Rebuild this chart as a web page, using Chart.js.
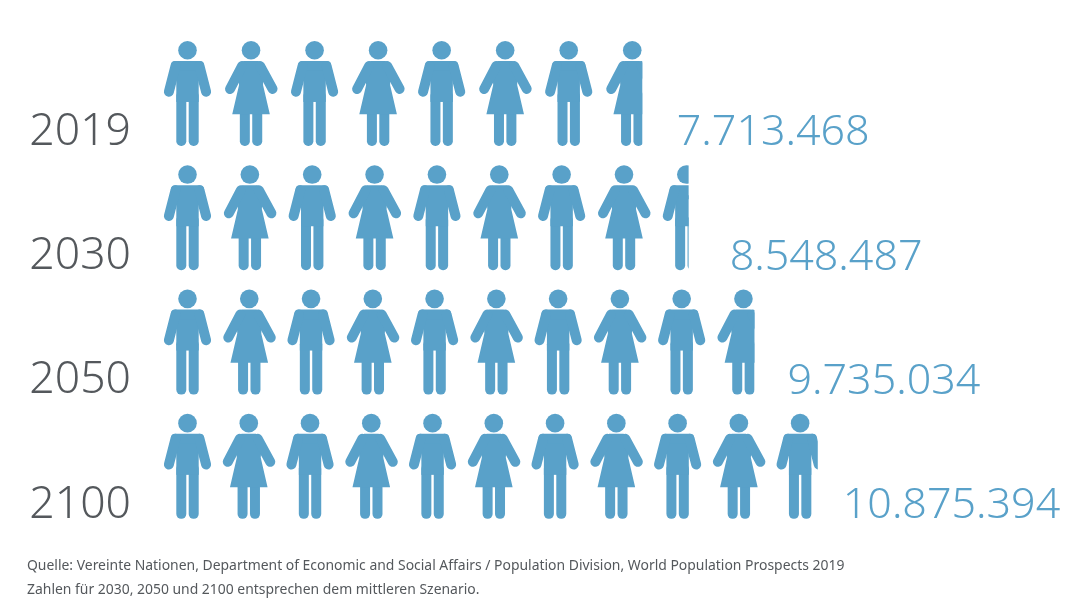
<!DOCTYPE html>
<html><head><meta charset="utf-8">
<style>html,body{margin:0;padding:0;background:#fff}canvas{display:block}</style>
<script src="https://cdn.jsdelivr.net/npm/chart.js@4"></script></head>
<body><canvas id="c" width="1080" height="608"></canvas>
<script>
const years = ['2019','2030','2050','2100'];
const population = [7713468, 8548487, 9735034, 10875394];
const sourceLines = [
  'Quelle: Vereinte Nationen, Department of Economic and Social Affairs / Population Division, World Population Prospects 2019',
  'Zahlen für 2030, 2050 und 2100 entsprechen dem mittleren Szenario.'
];
const BLUE = '#59a1c9', GREY = '#54585c', FONT = '"Noto Sans", sans-serif';
const ICON_W = 47;
const LABEL_GAP = [34.5, 41, 33, 25];

function limb(ctx, x1, y1, x2, y2, w) {
  ctx.lineWidth = w; ctx.lineCap = 'round';
  ctx.beginPath(); ctx.moveTo(x1, y1); ctx.lineTo(x2, y2); ctx.stroke();
}
function poly(ctx, pts) {
  ctx.beginPath(); pts.forEach((p, i) => i ? ctx.lineTo(p[0], p[1]) : ctx.moveTo(p[0], p[1]));
  ctx.closePath(); ctx.fill();
}
function person(ctx, cx, top, female) {
  ctx.save(); ctx.translate(cx, top);
  ctx.fillStyle = ctx.strokeStyle = BLUE;
  ctx.beginPath(); ctx.arc(0, 9.3, 9.3, 0, Math.PI * 2); ctx.fill();
  [1.2, -11.2].forEach(x => { ctx.beginPath(); ctx.roundRect(x, 50, 10, 55, 4.8); ctx.fill(); });
  if (female) {
    poly(ctx, [[-7,20],[7,20],[10,21],[13,26],[12,44],[18.8,73.3],[-18.8,73.3],[-12,44],[-13,26],[-10,21]]);
    limb(ctx, -9, 25, -21, 48, 10); limb(ctx, 9, 25, 21.5, 48, 10);
  } else {
    ctx.beginPath(); ctx.roundRect(-16.5, 20, 33, 14, 4); ctx.fill();
    ctx.fillRect(-11.2, 30, 22.4, 31);
    limb(ctx, -12, 25, -18.6, 50.7, 10); limb(ctx, 12, 25, 18.6, 50.7, 10);
  }
  ctx.restore();
}
const pictogram = {
  id: 'pictogram',
  afterDatasetsDraw(chart) {
    const { ctx } = chart, xs = chart.scales.x;
    const start = xs.left;
    chart.getDatasetMeta(0).data.forEach((bar, i) => {
      const v = population[i] / 1e6, n = Math.ceil(v), frac = v - Math.floor(v);
      const pitch = (bar.x - start - frac * ICON_W) / (n - 1);
      ctx.save();
      ctx.beginPath(); ctx.rect(start - 3, bar.y - 60, bar.x - start + 3, 120); ctx.clip();
      for (let k = 0; k < n; k++) person(ctx, start + ICON_W / 2 + k * pitch, bar.y - 52.5, k % 2 === 1);
      ctx.restore();
      ctx.save();
      ctx.fillStyle = BLUE; ctx.font = '300 43px ' + FONT;
      ctx.textAlign = 'left'; ctx.textBaseline = 'alphabetic';
      ctx.fillText(population[i].toLocaleString('de-DE'), bar.x + LABEL_GAP[i], bar.y + 52);
      ctx.restore();
    });
  }
};
new Chart(document.getElementById('c'), {
  type: 'bar',
  data: { labels: years, datasets: [{ data: population, backgroundColor: 'rgba(0,0,0,0)', borderWidth: 0 }] },
  plugins: [pictogram],
  options: {
    indexAxis: 'y', responsive: false, animation: false,
    layout: { padding: { top: 31.3, left: 27, right: 0, bottom: 0 } },
    scales: {
      x: { display: false, min: -904000, max: 15600000 },
      y: {
        afterFit(s) { s.width = 137; s.paddingTop = 0; s.paddingBottom = 0; },
        border: { display: false }, grid: { display: false, drawTicks: false },
        ticks: { color: GREY, padding: 33, labelOffset: 38.5, font: { family: FONT, size: 44.5, weight: '300' } }
      }
    },
    plugins: {
      legend: { display: false }, tooltip: { enabled: false },
      title: {
        display: true, text: sourceLines, position: 'bottom', align: 'start', color: GREY,
        font: { family: FONT, size: 13.93, weight: '400', lineHeight: 24 / 13.93 },
        padding: { top: 25.5, bottom: 6 }
      }
    }
  }
});
</script></body></html>
